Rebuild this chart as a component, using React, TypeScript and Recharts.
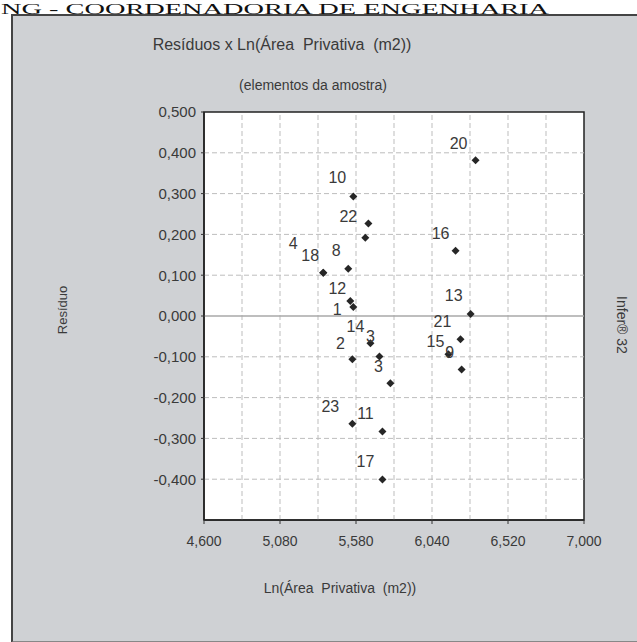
import React from 'react';
import {
  ScatterChart, Scatter, XAxis, YAxis, ReferenceLine, ReferenceArea,
} from 'recharts';

// ---- data ----
const sampleLabels = ['20', '10', '22', '', '16', '8', '18', '4', '12', '1', '14', '3', '2', '3', '23', '11', '17', '13', '21', '15', '9'];
const lnArea = [6.315, 5.543, 5.638, 5.619, 6.189, 5.511, 5.353, 5.353, 5.524, 5.543, 5.651, 5.708, 5.537, 5.777, 5.537, 5.727, 5.727, 6.284, 6.220, 6.144, 6.227];
const residuals = [0.382, 0.293, 0.227, 0.192, 0.160, 0.116, 0.106, 0.106, 0.037, 0.022, -0.067, -0.099, -0.106, -0.165, -0.264, -0.283, -0.401, 0.005, -0.057, -0.094, -0.131];

const xTicks = [4.6, 5.08, 5.56, 6.04, 6.52, 7.0];
const xTickLabels = ['4,600', '5,080', '5,580', '6,040', '6,520', '7,000'];
const xGrid = [4.84, 5.08, 5.32, 5.56, 5.8, 6.04, 6.28, 6.52, 6.76];
const yTicks = [0.5, 0.4, 0.3, 0.2, 0.1, 0.0, -0.1, -0.2, -0.3, -0.4];
const yTickLabels = ['0,500', '0,400', '0,300', '0,200', '0,100', '0,000', '-0,100', '-0,200', '-0,300', '-0,400'];
const yGrid = [0.4, 0.3, 0.2, 0.1, -0.1, -0.2, -0.3, -0.4];

// label placement nudges (layout only)
const labelNudges: [number, number][] = [
  [-17, -17], [-16, -19], [-20, -7], [0, 0], [-15, -17], [-12, -18], [-13, -17], [-30, -29],
  [-13, -12], [-16, 2], [-15, -17], [-9, -20], [-12, -16], [-12, -17], [-22, -17], [-17, -18],
  [-17, -18], [-17, -18], [-18, -18], [-13, -13], [-12, -17],
];

const data = lnArea.map((x, i) => ({
  x, y: residuals[i], label: sampleLabels[i], dx: labelNudges[i][0], dy: labelNudges[i][1],
}));

const FONT = '"Liberation Sans", Arial, sans-serif';
const TEXT = '#3a3a3a';

const PointShape = (props: any) => {
  const { cx, cy, payload } = props;
  if (cx == null || cy == null) return null;
  return (
    <g>
      <path d={`M${cx - 4},${cy} L${cx},${cy - 4} L${cx + 4},${cy} L${cx},${cy + 4} Z`} fill="#262626" />
      {payload.label ? (
        <text x={cx + payload.dx} y={cy + payload.dy} textAnchor="middle" dominantBaseline="central"
          fontFamily={FONT} fontSize={16} fill={TEXT}>{payload.label}</text>
      ) : null}
    </g>
  );
};

export default function App() {
  return (
    <div style={{ position: 'absolute', left: 0, top: 0, width: 637, height: 642, overflow: 'hidden', background: '#ffffff' }}>
      <div style={{ position: 'absolute', left: 11, top: 14, width: 626, height: 625, background: '#cfd1d4', borderLeft: '2px solid #444', borderTop: '2px solid #444', borderBottom: '2px solid #888' }} />
      <svg width={637} height={20} style={{ position: 'absolute', left: 0, top: 0 }}>
        <text x={1} y={14} fontFamily='"Liberation Serif", "Times New Roman", serif' fontSize={15} fill="#111"
          textLength={548} lengthAdjust="spacingAndGlyphs">NG - COORDENADORIA DE ENGENHARIA</text>
      </svg>
      <div style={{ position: 'absolute', left: 0, top: 36, width: 564, textAlign: 'center', fontFamily: FONT, fontSize: 16, color: TEXT, whiteSpace: 'pre' }}>
        {'Resíduos x Ln(Área  Privativa  (m2))'}
      </div>
      <div style={{ position: 'absolute', left: 0, top: 77, width: 626, textAlign: 'center', fontFamily: FONT, fontSize: 14, color: TEXT, whiteSpace: 'pre' }}>
        (elementos da amostra)
      </div>
      <div style={{ position: 'absolute', left: 0, top: 0 }}>
        <ScatterChart width={637} height={642} margin={{ top: 112, right: 53, bottom: 62, left: 144 }}>
          <ReferenceArea x1={4.6} x2={7.0} y1={-0.5} y2={0.5} fill="#ffffff" fillOpacity={1} stroke="none" ifOverflow="visible" />
          {xGrid.map((v) => (
            <ReferenceLine key={'gx' + v} x={v} stroke="#bdbdbd" strokeDasharray="5 3" />
          ))}
          {yGrid.map((v) => (
            <ReferenceLine key={'gy' + v} y={v} stroke="#bdbdbd" strokeDasharray="5 3" />
          ))}
          <ReferenceLine y={0} stroke="#a8a8a8" strokeWidth={1.5} />
          <XAxis
            type="number" dataKey="x" domain={[4.6, 7.0]} ticks={xTicks} interval={0}
            tickFormatter={(v: number) => xTickLabels[xTicks.findIndex((t) => Math.abs(t - v) < 1e-6)] ?? ''}
            tick={{ fontFamily: FONT, fontSize: 14, fill: TEXT }}
            tickLine={{ stroke: '#333' }} tickSize={4} tickMargin={12}
            axisLine={{ stroke: '#222', strokeWidth: 1.5 }} height={60} allowDataOverflow
            label={{
              content: () => (
                <text x={340} y={588} textAnchor="middle" dominantBaseline="central" fontFamily={FONT} fontSize={14} fill={TEXT} style={{ whiteSpace: 'pre' }}>
                  {'Ln(Área  Privativa  (m2))'}
                </text>
              ),
            }}
          />
          <YAxis
            type="number" dataKey="y" domain={[-0.5, 0.5]} ticks={yTicks} interval={0}
            tickFormatter={(v: number) => yTickLabels[yTicks.findIndex((t) => Math.abs(t - v) < 1e-6)] ?? ''}
            tick={{ fontFamily: FONT, fontSize: 15, fill: TEXT }}
            tickLine={{ stroke: '#333' }} tickSize={3} tickMargin={5}
            axisLine={{ stroke: '#222', strokeWidth: 1.5 }} width={60} allowDataOverflow
            label={{
              content: () => (
                <text x={62} y={310} transform="rotate(-90 62 310)" textAnchor="middle" dominantBaseline="central" fontFamily={FONT} fontSize={13} fill={TEXT}>
                  Resíduo
                </text>
              ),
            }}
          />
          <ReferenceArea x1={4.6} x2={7.0} y1={-0.5} y2={0.5} fill="none" stroke="#222" strokeWidth={1.5} ifOverflow="visible" />
          <Scatter data={data} shape={PointShape} isAnimationActive={false} />
        </ScatterChart>
      </div>
      <div style={{ position: 'absolute', left: 622, top: 325, transform: 'translate(-50%, -50%) rotate(90deg)', fontFamily: FONT, fontSize: 14, color: TEXT, whiteSpace: 'nowrap' }}>
        Infer® 32
      </div>
    </div>
  );
}
